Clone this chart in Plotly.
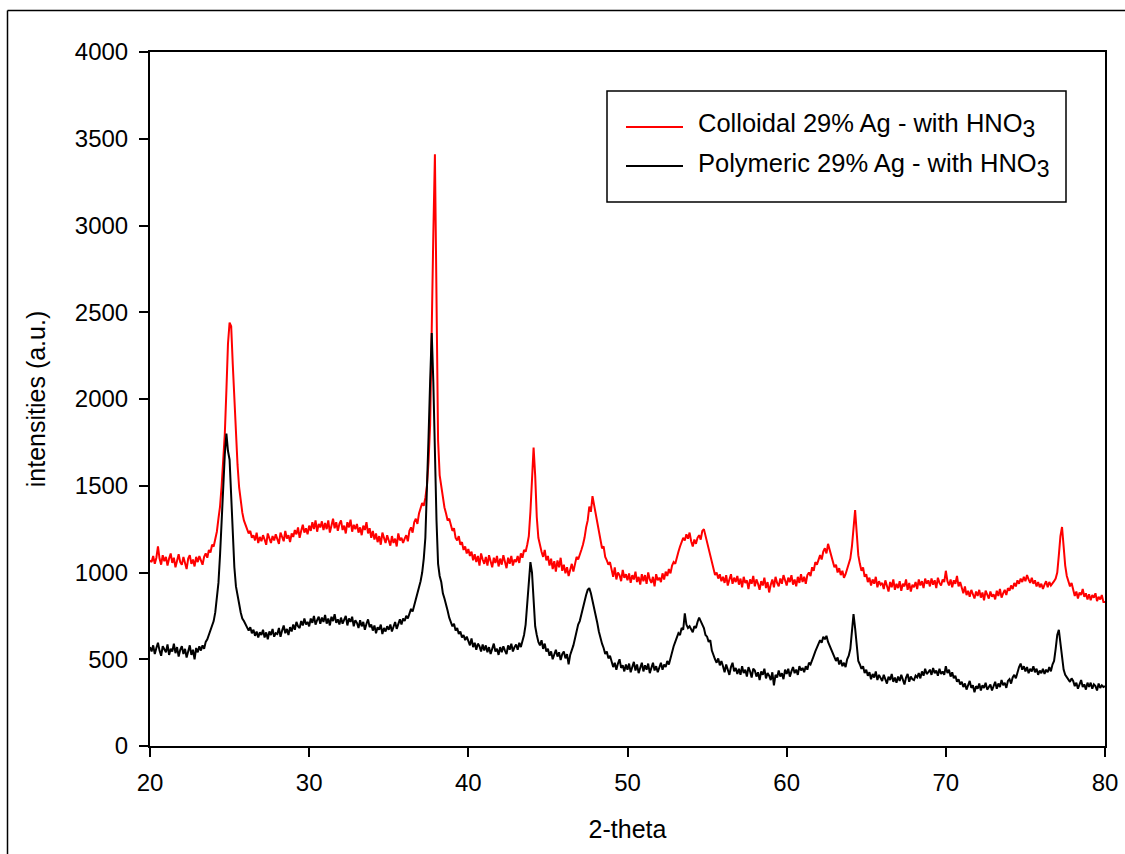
import plotly.graph_objects as go

# ---------------- data ----------------
scan_start = 20.0
scan_step = 0.1
n_points = 601
two_theta = [round(scan_start + scan_step * i, 1) for i in range(n_points)]

colloidal_29_ag_hno3 = [
    1070, 1060, 1095, 1050, 1085, 1150, 1080, 1045, 1100, 1065,  # 20
    1090, 1040, 1080, 1110, 1055, 1085, 1030, 1075, 1105, 1060,  # 21
    1045, 1090, 1060, 1020, 1080, 1100, 1050, 1075, 1035, 1090,  # 22
    1060, 1095, 1070, 1045, 1090, 1110, 1085, 1130, 1115, 1160,  # 23
    1150, 1200, 1235, 1310, 1380, 1500, 1650, 1800, 2050, 2320,  # 24
    2440, 2420, 2200, 1990, 1790, 1620, 1490, 1400, 1345, 1300,  # 25
    1270, 1250, 1225, 1240, 1200, 1215, 1185, 1230, 1170, 1205,  # 26
    1180, 1215, 1190, 1160, 1225, 1195, 1170, 1210, 1185, 1220,  # 27
    1190, 1165, 1230, 1200, 1180, 1240, 1195, 1215, 1175, 1225,  # 28
    1205, 1245, 1220, 1260, 1200, 1240, 1275, 1230, 1255, 1220,  # 29
    1270, 1240, 1290, 1250, 1300, 1235, 1280, 1260, 1295, 1245,  # 30
    1285, 1250, 1300, 1230, 1275, 1310, 1255, 1290, 1240, 1280,  # 31
    1300, 1245, 1270, 1225, 1290, 1260, 1305, 1235, 1275, 1250,  # 32
    1280, 1230, 1260, 1215, 1270, 1245, 1290, 1225, 1255, 1200,  # 33
    1240, 1190, 1225, 1175, 1210, 1160, 1230, 1195, 1170, 1215,  # 34
    1180, 1155, 1210, 1170, 1195, 1150, 1225, 1185, 1200, 1170,  # 35
    1195, 1215, 1180, 1240, 1260, 1230, 1290, 1310, 1280, 1340,  # 36
    1370, 1400, 1385, 1430, 1500, 1640, 1850, 2300, 2950, 3410,  # 37
    2500, 1760, 1560, 1490, 1420, 1375, 1340, 1300, 1310, 1265,  # 38
    1240, 1255, 1200, 1185, 1210, 1160, 1175, 1130, 1150, 1110,  # 39
    1135, 1095, 1120, 1070, 1105, 1060, 1095, 1040, 1110, 1075,  # 40
    1050, 1090, 1040, 1100, 1065, 1030, 1085, 1055, 1095, 1035,  # 41
    1080, 1045, 1100, 1060, 1025, 1085, 1050, 1095, 1040, 1075,  # 42
    1060, 1095, 1055, 1110, 1085, 1130, 1120, 1160, 1210, 1350,  # 43
    1580, 1720, 1560, 1320, 1200, 1150, 1120, 1090, 1130, 1070,  # 44
    1095, 1040, 1080, 1020, 1065, 1005, 1070, 1030, 1085, 1010,  # 45
    1045, 995, 1030, 980, 1020, 1050, 1005, 1060, 1090, 1075,    # 46
    1110, 1130, 1160, 1200, 1260, 1300, 1380, 1350, 1440, 1390,  # 47
    1330, 1280, 1220, 1190, 1140, 1150, 1090, 1070, 1045, 1060,  # 48
    1010, 975, 1030, 960, 1000, 985, 950, 1015, 970, 990,        # 49
    955, 995, 940, 985, 960, 1005, 945, 975, 930, 990,           # 50
    950, 985, 935, 1000, 960, 940, 975, 920, 990, 955,           # 51
    970, 945, 995, 960, 1005, 980, 1020, 995, 1040, 1060,        # 52
    1050, 1090, 1120, 1150, 1170, 1200, 1185, 1220, 1195, 1230,  # 53
    1180, 1150, 1190, 1165, 1200, 1215, 1190, 1240, 1250, 1210,  # 54
    1175, 1130, 1090, 1060, 1010, 985, 1000, 965, 990, 950,      # 55
    975, 940, 985, 925, 960, 990, 935, 970, 945, 980,            # 56
    930, 965, 915, 975, 940, 955, 905, 960, 935, 980,            # 57
    920, 960, 935, 900, 950, 925, 970, 910, 945, 885,            # 58
    930, 960, 915, 975, 940, 920, 965, 935, 985, 950,            # 59
    925, 970, 945, 985, 930, 960, 920, 975, 940, 990,            # 60
    945, 975, 935, 985, 1000, 980, 1030, 1010, 1060, 1045,       # 61
    1080, 1100, 1075, 1120, 1140, 1110, 1165, 1130, 1100, 1060,  # 62
    1030, 1045, 1000, 1025, 985, 1010, 970, 990, 1020, 1050,     # 63
    1080, 1150, 1280, 1360, 1230, 1100, 1050, 1010, 1030, 975,   # 64
    990, 945, 970, 925, 960, 935, 975, 915, 950, 930,            # 65
    940, 905, 955, 920, 890, 945, 915, 960, 900, 935,            # 66
    910, 950, 895, 935, 920, 960, 900, 940, 890, 930,            # 67
    915, 945, 905, 960, 925, 950, 910, 965, 935, 955,            # 68
    920, 965, 930, 955, 910, 970, 940, 925, 960, 945,            # 69
    1010, 950, 925, 960, 915, 955, 935, 980, 920, 945,           # 70
    905, 880, 920, 870, 895, 860, 900, 875, 850, 890,            # 71
    865, 900, 855, 885, 840, 895, 870, 850, 890, 860,            # 72
    875, 845, 895, 865, 905, 855, 880, 900, 870, 910,            # 73
    895, 925, 905, 940, 920, 955, 935, 965, 945, 975,            # 74
    950, 985, 960, 940, 970, 935, 955, 920, 945, 915,            # 75
    935, 905, 930, 950, 915, 945, 925, 935, 950, 965,            # 76
    1000, 1100, 1210, 1262, 1150, 1040, 980, 950, 920, 940,      # 77
    900, 865, 890, 850, 885, 870, 905, 860, 880, 845,            # 78
    875, 840, 870, 855, 880, 835, 860, 845, 870, 830,            # 79
    830,                                                         # 80
]

polymeric_29_ag_hno3 = [
    570, 545, 580, 530, 565, 595, 550, 520, 575, 555,            # 20
    540, 585, 525, 560, 545, 590, 535, 570, 515, 555,            # 21
    575, 530, 560, 510, 545, 580, 525, 555, 500, 565,            # 22
    540, 575, 550, 580, 560, 600, 615, 640, 670, 690,            # 23
    720, 770, 840, 940, 1100, 1320, 1520, 1680, 1800, 1700,      # 24
    1650, 1420, 1200, 1030, 920, 860, 820, 770, 735, 720,        # 25
    700, 690, 665, 685, 650, 670, 635, 660, 625, 655,            # 26
    640, 670, 625, 655, 615, 660, 640, 675, 630, 650,            # 27
    645, 680, 630, 665, 695, 650, 675, 640, 685, 660,            # 28
    700, 670, 715, 690, 680, 720, 695, 735, 700, 715,            # 29
    690, 735, 710, 750, 700, 725, 745, 705, 740, 715,            # 30
    755, 705, 735, 695, 745, 720, 760, 710, 730, 700,            # 31
    740, 705, 725, 750, 695, 735, 715, 745, 690, 725,            # 32
    710, 680, 725, 690, 715, 670, 705, 730, 685, 700,            # 33
    665, 695, 650, 685, 670, 700, 645, 680, 660, 690,            # 34
    670, 700, 660, 690, 715, 675, 705, 730, 700, 735,            # 35
    720, 750, 735, 765, 790, 775, 810, 840, 870, 910,            # 36
    950, 1000, 1080, 1200, 1450, 1780, 2100, 2380, 2100, 1650,   # 37
    1300, 1050, 980, 945, 880, 850, 805, 780, 740, 720,          # 38
    690, 705, 665, 680, 645, 660, 625, 640, 610, 630,            # 39
    605, 580, 620, 570, 595, 555, 590, 575, 545, 585,            # 40
    550, 580, 540, 570, 530, 565, 590, 545, 560, 525,            # 41
    570, 540, 575, 550, 530, 580, 555, 590, 545, 570,            # 42
    585, 555, 595, 570, 610, 640, 700, 830, 950, 1060,           # 43
    1000, 820, 690, 640, 600, 580, 610, 560, 590, 545,           # 44
    560, 520, 545, 500, 535, 555, 515, 540, 495, 530,            # 45
    545, 505, 530, 470, 525, 550, 580, 620, 660, 700,            # 46
    720, 760, 800, 830, 870, 900, 910, 880, 840, 790,            # 47
    750, 710, 660, 620, 590, 565, 530, 545, 505, 520,            # 48
    490, 455, 480, 440, 475, 500, 450, 465, 430, 470,            # 49
    440, 475, 425, 460, 485, 435, 470, 420, 455, 480,            # 50
    430, 465, 440, 475, 420, 455, 480, 435, 460, 425,            # 51
    450, 480, 440, 470, 455, 490, 470, 510, 540, 575,            # 52
    600, 620, 650, 640, 680, 670, 765, 700, 680, 690,            # 53
    670, 655, 690, 680, 715, 740, 720, 700, 680, 640,            # 54
    630, 600, 610, 550, 520, 500, 480, 505, 465, 490,            # 55
    460, 425, 470, 440, 410, 455, 480, 430, 450, 415,            # 56
    445, 410, 460, 420, 440, 400, 455, 430, 395, 445,            # 57
    435, 400, 425, 380, 430, 410, 445, 390, 420, 405,            # 58
    380, 425, 350, 410, 395, 435, 400, 420, 385, 440,            # 59
    415, 445, 400, 430, 455, 420, 440, 410, 460, 435,            # 60
    450, 425, 460, 440, 480, 470, 500, 520, 545, 565,            # 61
    580, 610, 595, 630, 615, 635, 600, 580, 560, 530,            # 62
    520, 490, 510, 470, 495, 460, 480, 455, 500, 520,            # 63
    560, 660, 760, 680, 560, 490, 470, 445, 460, 420,            # 64
    440, 405, 425, 385, 415, 395, 430, 380, 410, 395,            # 65
    375, 410, 385, 360, 400, 380, 415, 370, 395, 365,            # 66
    400, 375, 410, 380, 355, 395, 415, 370, 400, 385,            # 67
    380, 405, 395, 420, 390, 430, 405, 445, 415, 425,            # 68
    440, 410, 450, 420, 435, 405, 445, 415, 430, 410,            # 69
    460, 420, 440, 400, 425, 390, 405, 370, 385, 355,            # 70
    370, 340, 360, 325, 355, 375, 335, 350, 310, 345,            # 71
    330, 360, 320, 350, 335, 365, 325, 340, 355, 320,            # 72
    345, 370, 330, 360, 340, 380, 350, 365, 335, 375,            # 73
    385, 360, 395, 410, 390, 430, 455, 475, 440, 460,            # 74
    430, 455, 420, 445, 430, 460, 425, 445, 410, 435,            # 75
    420, 445, 415, 440, 425, 455, 430, 470, 490, 560,            # 76
    640, 670, 590, 500, 440, 410, 395, 380, 370, 390,            # 77
    375, 345, 365, 330, 360, 380, 340, 355, 325, 365,            # 78
    340, 365, 330, 355, 345, 320, 360, 335, 350, 340,            # 79
    345,                                                         # 80
]

series_names = [
    "Colloidal 29% Ag - with HNO<sub><span style='font-size:23px'>3</span></sub>",
    "Polymeric 29% Ag - with HNO<sub><span style='font-size:23px'>3</span></sub>",
]
series_colors = ["#ff0000", "#000000"]

x_ticks = [20, 30, 40, 50, 60, 70, 80]
y_ticks = [0, 500, 1000, 1500, 2000, 2500, 3000, 3500, 4000]

assert len(colloidal_29_ag_hno3) == n_points, len(colloidal_29_ag_hno3)
assert len(polymeric_29_ag_hno3) == n_points, len(polymeric_29_ag_hno3)

# ---------------- figure ----------------
FONT = "Liberation Sans, Arial, sans-serif"
W, H = 1125, 854
ML, MR, MT, MB = 150, 20, 52, 108
PW, PH = W - ML - MR, H - MT - MB


def px(x):
    return (x - ML) / PW


def py(y):
    return (H - MB - y) / PH


fig = go.Figure()
for vals, name, col in zip([colloidal_29_ag_hno3, polymeric_29_ag_hno3], series_names, series_colors):
    fig.add_trace(go.Scatter(x=two_theta, y=vals, mode="lines", name=name,
                             line=dict(color=col, width=2), showlegend=False))

axis_common = dict(showgrid=False, zeroline=False, showline=True, linecolor="black",
                   linewidth=2, mirror=True, ticks="outside", ticklen=9, tickwidth=2,
                   tickcolor="black", tickfont=dict(family=FONT, size=24, color="black"))

fig.update_xaxes(range=[20, 80], tickvals=x_ticks, ticklabelstandoff=5, **axis_common,
                 title=dict(text="2-theta", font=dict(family=FONT, size=25, color="black"), standoff=26))
fig.update_yaxes(range=[0, 4000], tickvals=y_ticks, ticklabelstandoff=6, **axis_common,
                 title=dict(text="intensities (a.u.)", font=dict(family=FONT, size=25, color="black"), standoff=22))

shapes = []
# outer frame (left and top edges visible)
shapes.append(dict(type="line", xref="paper", yref="paper", x0=px(7.5), x1=px(7.5), y0=py(10.5), y1=py(900),
                   line=dict(color="black", width=1.5)))
shapes.append(dict(type="line", xref="paper", yref="paper", x0=px(7.5), x1=px(1200), y0=py(10.5), y1=py(10.5),
                   line=dict(color="black", width=1.5)))
# legend box
shapes.append(dict(type="rect", xref="paper", yref="paper", x0=px(607), x1=px(1066), y0=py(202), y1=py(91),
                   line=dict(color="black", width=1.5), fillcolor="white"))
row_y = [127, 166]
for ry, col in zip(row_y, series_colors):
    shapes.append(dict(type="line", xref="paper", yref="paper", x0=px(626), x1=px(683), y0=py(ry), y1=py(ry),
                       line=dict(color=col, width=2)))

annotations = []
for ry, name in zip(row_y, series_names):
    annotations.append(dict(xref="paper", yref="paper", x=px(696), y=py(ry - 1), xanchor="left", yanchor="middle",
                            text=name, showarrow=False,
                            font=dict(family=FONT, size=25.5, color="black")))

fig.update_layout(width=W, height=H, margin=dict(l=ML, r=MR, t=MT, b=MB, autoexpand=False),
                  paper_bgcolor="white", plot_bgcolor="white", shapes=shapes, annotations=annotations,
                  font=dict(family=FONT, color="black"), showlegend=False)

fig.write_html("out.html")
